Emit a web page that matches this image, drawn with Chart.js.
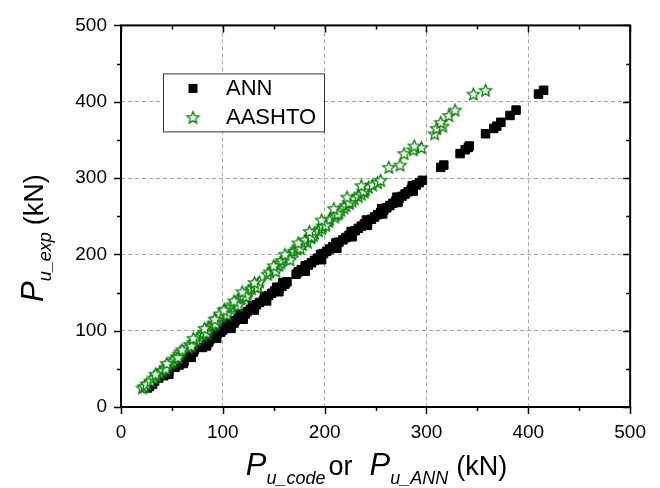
<!DOCTYPE html>
<html>
<head>
<meta charset="utf-8">
<script src="https://cdn.jsdelivr.net/npm/chart.js@4.4.1/dist/chart.umd.min.js"></script>
<style>
  html, body { margin: 0; padding: 0; background: #fff; }
</style>
</head>
<body>
<canvas id="myChart" width="660" height="488"></canvas>
<script>
// experimental ultimate load (y) for each specimen, kN
var p_exp = [25,27,30,34,38,41,45,48,52,55,58,60,63,66,69,72,78,82,85,88,
  92,95,98,101,104,107,110,113,116,119,122,125,128,131,134,137,140,143,146,149,
  152,155,158,161,164,174,177,180,183,186,189,192,195,198,201,204,207,210,213,216,
  219,222,225,228,231,234,237,240,243,246,249,252,255,258,261,264,267,270,273,276,
  279,282,285,288,291,294,297,314,317,332,337,340,342,358,365,368,373,382,389,410,415,
  43,50,57,65,75,80,90,97,103,109,115,121,127,133,139,145,151,157,163,178,
  185,193,200,208,215,223,230,238,245,253,260,268,275,283,290];

// ANN prediction (x)
var p_ann = [26,28,31,33,37,42,44,47,53,57,60,62,61,64,67,71,80,84,86,87,
  91,94,98,100,103,106,111,112,115,118,122,124,127,131,133,136,140,142,145,148,
  151,155,158,161,163,172,174,177,181,184,187,190,193,196,199,202,205,208,211,214,
  218,221,224,227,230,233,236,239,242,246,249,252,255,258,261,264,267,270,273,276,
  279,282,285,287,290,293,296,314,317,333,338,341,342,358,366,369,373,382,388,410,415,
  47,46,61,69,72,84,94,93,108,104,120,117,131,129,143,141,155,153,159,181,
  181,197,196,212,211,227,226,242,241,257,256,272,271,287,286];

// AASHTO code prediction (x)
var p_aashto = [21,23,25,29,32,35,38,41,44,46,49,51,53,55,57,58,66,68,71,74,
  77,80,81,85,86,90,91,95,94,99,97,104,102,108,110,113,115,118,120,124,
  125,128,131,134,136,144,146,150,152,155,157,158,162,165,167,170,173,174,178,183,
  181,186,189,190,194,197,198,201,204,205,210,211,214,216,219,221,224,227,229,233,
  236,239,240,243,247,252,255,263,274,278,287,295,288,308,310,316,314,322,328,346,358,
  34,44,45,56,60,69,71,84,82,93,92,104,101,115,111,123,119,134,131,152,
  150,166,161,176,174,187,185,201,197,213,209,224,222,238,236];

var series_names = ["ANN", "AASHTO"];
var axis_min = 0, axis_max = 500, axis_step = 100, minor_step = 50;

var FONT = "'Liberation Sans', Arial, Helvetica, sans-serif";

function pts(xs, ys) {
  var out = [];
  for (var i = 0; i < ys.length; i++) out.push({x: xs[i], y: ys[i]});
  return out;
}

// open star with white fill, like the Origin marker
function makeStar(r) {
  var c = document.createElement('canvas');
  var s = Math.ceil(r * 2 + 4);
  c.width = s; c.height = s;
  var g = c.getContext('2d');
  g.beginPath();
  for (var i = 0; i < 10; i++) {
    var a = -Math.PI / 2 + i * Math.PI / 5;
    var rr = (i % 2 == 0) ? r : r * 0.45;
    g.lineTo(s / 2 + rr * Math.cos(a), s / 2 + rr * Math.sin(a) + 0.5);
  }
  g.closePath();
  g.fillStyle = '#fff';
  g.fill();
  g.strokeStyle = '#008000';
  g.lineWidth = 1.3;
  g.stroke();
  return c;
}
var starImg = makeStar(6.3);

// frame + inside/outside ticks
var framePlugin = {
  id: 'frame',
  afterDraw: function(chart) {
    var ctx = chart.ctx, a = chart.chartArea;
    var xs = chart.scales.x, ys = chart.scales.y;
    ctx.save();
    ctx.strokeStyle = '#000';
    ctx.lineWidth = 1.5;
    ctx.beginPath();
    for (var v = axis_min; v <= axis_max; v += minor_step) {
      var len = (v % axis_step == 0) ? 7 : 4;
      var px = Math.round(xs.getPixelForValue(v)) + 0.5;
      var py = Math.round(ys.getPixelForValue(v)) + 0.5;
      ctx.moveTo(px, a.bottom); ctx.lineTo(px, a.bottom + len);
      ctx.moveTo(px, a.top); ctx.lineTo(px, a.top + len);
      ctx.moveTo(a.left - len, py); ctx.lineTo(a.left, py);
      ctx.moveTo(a.right - len, py); ctx.lineTo(a.right, py);
    }
    ctx.stroke();
    ctx.lineWidth = 2;
    ctx.strokeRect(a.left, a.top, a.right - a.left, a.bottom - a.top);
    ctx.restore();
  }
};

// legend box inside plot
var legendPlugin = {
  id: 'boxLegend',
  afterDraw: function(chart) {
    var ctx = chart.ctx, a = chart.chartArea;
    var bx = a.left + 42, by = a.top + 48, bw = 161, bh = 58;
    ctx.save();
    ctx.fillStyle = '#fff';
    ctx.fillRect(bx, by, bw, bh);
    ctx.strokeStyle = '#333';
    ctx.lineWidth = 1;
    ctx.strokeRect(bx + 0.5, by + 0.5, bw, bh);
    var ds = chart.data.datasets;
    var rows = [by + 15, by + 44];
    ctx.font = '22px ' + FONT;
    ctx.fillStyle = '#000';
    ctx.textBaseline = 'middle';
    for (var i = 0; i < ds.length; i++) {
      var mx = bx + 30, my = rows[i];
      if (ds[i].pointStyle === 'rect') {
        ctx.fillStyle = '#000';
        ctx.fillRect(mx - 4.5, my - 4.5, 9, 9);
      } else {
        ctx.drawImage(starImg, mx - starImg.width / 2, my - starImg.height / 2);
      }
      ctx.fillStyle = '#000';
      ctx.fillText(ds[i].label, bx + 63, my + 1);
    }
    ctx.restore();
  }
};

// axis titles with italic subscripts
function drawRuns(ctx, runs, x, y) {
  for (var i = 0; i < runs.length; i++) {
    var r = runs[i];
    ctx.font = r.f;
    ctx.fillText(r.t, x, y + (r.dy || 0));
    x += ctx.measureText(r.t).width + (r.gap || 0);
  }
}
function runsWidth(ctx, runs) {
  var w = 0;
  for (var i = 0; i < runs.length; i++) {
    ctx.font = runs[i].f;
    w += ctx.measureText(runs[i].t).width + (runs[i].gap || 0);
  }
  return w;
}
var titlePlugin = {
  id: 'titles',
  afterDraw: function(chart) {
    var ctx = chart.ctx, a = chart.chartArea;
    var big = 'italic 31px ' + FONT, sub = 'italic 18px ' + FONT, norm = '27px ' + FONT;
    ctx.save();
    ctx.fillStyle = '#000';
    ctx.textBaseline = 'alphabetic';
    ctx.textAlign = 'left';
    var xr = [
      {t: 'P', f: big}, {t: 'u_code', f: sub, dy: 9, gap: 3},
      {t: 'or', f: norm, gap: 17}, {t: 'P', f: big},
      {t: 'u_ANN', f: sub, dy: 9, gap: 8}, {t: '(kN)', f: norm}
    ];
    var w = runsWidth(ctx, xr);
    drawRuns(ctx, xr, (a.left + a.right) / 2 + 1 - w / 2, a.bottom + 68);

    var yr = [
      {t: 'P', f: big}, {t: 'u_exp', f: sub, dy: 8, gap: 7}, {t: '(kN)', f: norm}
    ];
    ctx.translate(43, 302);
    ctx.rotate(-Math.PI / 2);
    drawRuns(ctx, yr, 0, 0);
    ctx.restore();
  }
};

var canvas = document.getElementById("myChart");
var ctx = canvas.getContext('2d');

var tickFont = {family: FONT, size: 19};
var gridOpts = {color: '#a6a6a6', lineWidth: 1, drawTicks: false};

var chart = new Chart(ctx, {
  type: 'scatter',
  data: {
    datasets: [
      {
        label: series_names[0],
        data: pts(p_ann, p_exp),
        pointStyle: 'rect',
        pointRadius: 6,
        backgroundColor: '#000',
        borderColor: '#000',
        borderWidth: 1,
        order: 2
      },
      {
        label: series_names[1],
        data: pts(p_aashto, p_exp),
        pointStyle: starImg,
        pointRadius: 6,
        order: 1
      }
    ]
  },
  options: {
    responsive: false,
    animation: false,
    events: [],
    layout: { padding: { top: 21, right: 22, left: 0, bottom: 0 } },
    plugins: { legend: { display: false }, tooltip: { enabled: false } },
    scales: {
      x: {
        type: 'linear', min: axis_min, max: axis_max,
        ticks: { stepSize: axis_step, font: tickFont, color: '#000', padding: 14, maxRotation: 0 },
        grid: gridOpts,
        border: { display: false, dash: [4, 3] },
        afterFit: function(s) { s.height = 81; }
      },
      y: {
        type: 'linear', min: axis_min, max: axis_max,
        ticks: { stepSize: axis_step, font: tickFont, color: '#000', padding: 14 },
        grid: gridOpts,
        border: { display: false, dash: [4, 3] },
        afterFit: function(s) { s.width = 121; }
      }
    }
  },
  plugins: [framePlugin, legendPlugin, titlePlugin]
});
</script>
</body>
</html>
